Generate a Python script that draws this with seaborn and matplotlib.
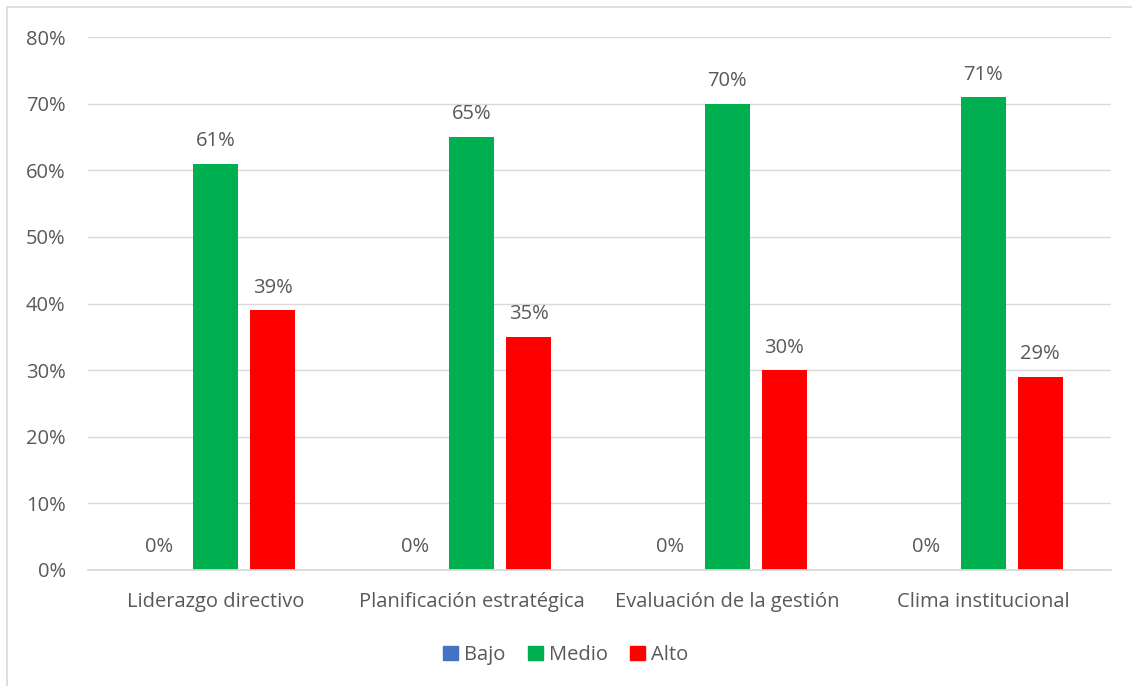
import pandas as pd
import numpy as np
import seaborn as sns
import matplotlib.pyplot as plt
from matplotlib.patches import Patch
from matplotlib.lines import Line2D

categorias = ["Liderazgo directivo", "Planificación estratégica",
              "Evaluación de la gestión", "Clima institucional"]
niveles = ["Bajo", "Medio", "Alto"]
bajo = [0, 0, 0, 0]
medio = [61, 65, 70, 71]
alto = [39, 35, 30, 29]
colores = ["#4472C4", "#00B050", "#FF0000"]

df = pd.DataFrame({"Dimension": categorias, "Bajo": bajo, "Medio": medio, "Alto": alto})
df = df.melt(id_vars="Dimension", var_name="Nivel", value_name="Porcentaje")

sns.set_theme(style="white")
plt.rcParams["font.family"] = ["Open Sans", "DejaVu Sans"]
gris = "#595959"
fs = 14.5

fig = plt.figure(figsize=(11.32, 6.86), dpi=100)
ax = fig.add_axes([0.0777, 0.1691, 0.9037, 0.7769])

sns.barplot(data=df, x="Dimension", y="Porcentaje", hue="Nivel", hue_order=niveles,
            palette=colores, saturation=1, width=0.668, gap=0.21, legend=False,
            linewidth=0, edgecolor="none", ax=ax)

ax.set_ylim(0, 80)
ax.set_yticks(np.arange(0, 81, 10))
ax.set_yticklabels([f"{v}%" for v in range(0, 81, 10)], color=gris, fontsize=fs)
ax.set_xticklabels(categorias, color=gris, fontsize=fs)
ax.tick_params(axis="y", length=0, pad=16)
ax.tick_params(axis="x", length=0, pad=16)
ax.set_xlabel("")
ax.set_ylabel("")
ax.grid(axis="y", color="#d9d9d9", linewidth=1)
ax.set_axisbelow(True)
for s in ["top", "right", "left"]:
    ax.spines[s].set_visible(False)
ax.spines["bottom"].set_color("#d9d9d9")

for cont in ax.containers:
    ax.bar_label(cont, labels=[f"{v:.0f}%" for v in cont.datavalues],
                 padding=9, color=gris, fontsize=fs)

handles = [Patch(facecolor=c, edgecolor=c, label=n) for n, c in zip(niveles, colores)]
fig.legend(handles=handles, loc="center", bbox_to_anchor=(0.5, 1 - 655 / 686), ncol=3,
           frameon=False, fontsize=fs, handlelength=0.75, handleheight=0.75,
           handletextpad=0.3, columnspacing=1.1, labelcolor=gris)

# marco del gráfico
fig.add_artist(Line2D([7 / 1132, 1], [1 - 7 / 686, 1 - 7 / 686], color="#d9d9d9", lw=1.2))
fig.add_artist(Line2D([7 / 1132, 7 / 1132], [0, 1 - 7 / 686], color="#d9d9d9", lw=1.2))

fig.savefig("out.png", dpi=100, facecolor="white")
